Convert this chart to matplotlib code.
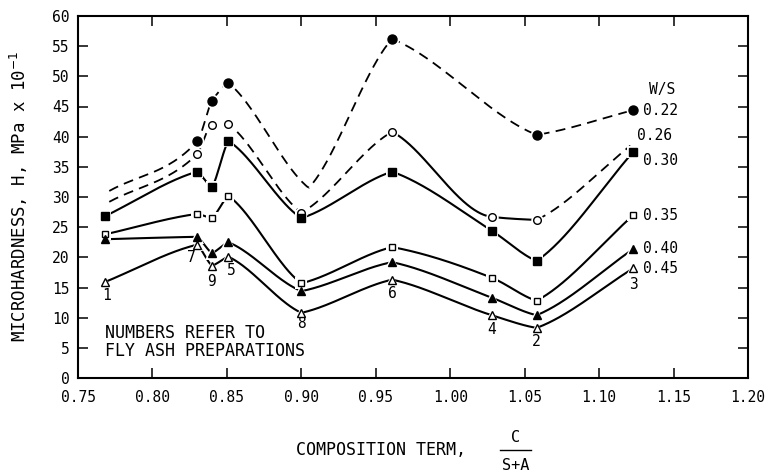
import numpy as np
import matplotlib
matplotlib.use("Agg")
import matplotlib.pyplot as plt

# Fly ash preparations: composition term C/(S+A) and preparation number
comp_term = [0.768, 0.830, 0.840, 0.851, 0.900, 0.961, 1.028, 1.058, 1.123]
prep_ids = ["1", "7", "9", "5", "8", "6", "4", "2", "3"]

# Microhardness (MPa x 10^-1) for each water/solid ratio; None = not measured
ws_022 = [None, 39.2, 45.9, 48.9, None, 56.2, None, 40.3, 44.4]
ws_026 = [None, 37.1, 42.0, 42.1, 27.4, 40.8, 26.7, 26.2, None]
ws_030 = [26.8, 34.2, 31.6, 39.3, 26.5, 34.2, 24.4, 19.4, 37.5]
ws_035 = [23.8, 27.2, 26.5, 30.2, 15.7, 21.7, 16.6, 12.8, 27.0]
ws_040 = [23.0, 23.4, 20.7, 22.5, 14.4, 19.2, 13.3, 10.4, 21.4]
ws_045 = [15.9, 22.1, 18.6, 20.1, 10.8, 16.3, 10.4, 8.3, 18.2]

# Extra guide points the drawn trend curves pass through (no measurement)
guide_022_x = [0.771, 0.905]
guide_022_y = [31.0, 31.5]
guide_026_x = [0.771, 1.121]
guide_026_y = [29.2, 38.5]

ws_labels = ["0.22", "0.26", "0.30", "0.35", "0.40", "0.45"]

plt.rcParams["font.family"] = ["DejaVu Sans Mono", "DejaVu Sans"]

fig = plt.figure(figsize=(7.68, 4.74), dpi=100)
ax = fig.add_axes([78 / 768, 1 - 378 / 474, (748 - 78) / 768, (378 - 16) / 474])

CORNER = 0.6  # fraction of the secant slope kept on each side of a peak/valley


def smooth(x, y, xs):
    """Monotone cubic Hermite curve; peaks and valleys get a soft corner."""
    x = np.asarray(x, float)
    y = np.asarray(y, float)
    h = np.diff(x)
    d = np.diff(y) / h
    n = len(x)
    mr = np.zeros(n)  # slope leaving knot k (used by interval k)
    ml = np.zeros(n)  # slope arriving at knot k (used by interval k-1)
    mr[0] = d[0]
    ml[-1] = d[-1]
    for k in range(1, n - 1):
        if d[k - 1] * d[k] > 0:
            w1 = 2 * h[k] + h[k - 1]
            w2 = h[k] + 2 * h[k - 1]
            m = (w1 + w2) / (w1 / d[k - 1] + w2 / d[k])
            ml[k] = mr[k] = m
        else:
            ml[k] = CORNER * d[k - 1]
            mr[k] = CORNER * d[k]
    idx = np.clip(np.searchsorted(x, xs) - 1, 0, n - 2)
    t = (xs - x[idx]) / h[idx]
    h00 = 2 * t**3 - 3 * t**2 + 1
    h10 = t**3 - 2 * t**2 + t
    h01 = -2 * t**3 + 3 * t**2
    h11 = t**3 - t**2
    return (h00 * y[idx] + h10 * h[idx] * mr[idx]
            + h01 * y[idx + 1] + h11 * h[idx] * ml[idx + 1])


def knots(values, gx=(), gy=()):
    pts = [(x, v) for x, v in zip(comp_term, values) if v is not None]
    pts += list(zip(gx, gy))
    pts.sort()
    return [p[0] for p in pts], [p[1] for p in pts]


def draw_curve(kx, ky, styles):
    # styles: one line style per interval between knots
    i = 0
    n = len(kx) - 1
    while i < n:
        j = i
        while j + 1 < n and styles[j + 1] == styles[i]:
            j += 1
        xs = np.linspace(kx[i], kx[j + 1], 300)
        ys = smooth(kx, ky, xs)
        if styles[i] == "--":
            ax.plot(xs, ys, color="black", lw=1.3, dashes=(5.5, 3.5), zorder=2)
        else:
            ax.plot(xs, ys, color="black", lw=1.5, zorder=2)
        i = j + 1


def draw_markers(values, marker, filled, ms):
    xs = [x for x, v in zip(comp_term, values) if v is not None]
    ys = [v for v in values if v is not None]
    ax.plot(xs, ys, ls="none", marker=marker, ms=ms + 3.5, mfc="white",
            mec="white", mew=0, zorder=3)
    ax.plot(xs, ys, ls="none", marker=marker, ms=ms,
            mfc="black" if filled else "white", mec="black", mew=1.0, zorder=4)


# W/S = 0.22 (dashed)
kx, ky = knots(ws_022, guide_022_x, guide_022_y)
draw_curve(kx, ky, ["--"] * (len(kx) - 1))
# W/S = 0.26 (dashed, solid between 0.96 and 1.06)
kx26, ky26 = knots(ws_026, guide_026_x, guide_026_y)
draw_curve(kx26, ky26, ["--", "--", "--", "--", "--", "-", "-", "--"])
for series in (ws_030, ws_035, ws_040, ws_045):
    kx, ky = knots(series)
    draw_curve(kx, ky, ["-"] * (len(kx) - 1))

draw_markers(ws_022, "o", True, 6.5)
draw_markers(ws_026, "o", False, 5.5)
draw_markers(ws_030, "s", True, 5.8)
draw_markers(ws_035, "s", False, 5.0)
draw_markers(ws_040, "^", True, 6.0)
draw_markers(ws_045, "^", False, 5.2)

# Axes
ax.set_xlim(0.75, 1.20)
ax.set_ylim(0, 60)
ax.set_xticks(np.arange(0.75, 1.2001, 0.05))
ax.set_xticklabels([f"{v:.2f}" for v in np.arange(0.75, 1.2001, 0.05)])
ax.set_yticks(np.arange(0, 61, 5))
ax.tick_params(direction="in", length=7.5, width=1.1, labelsize=10.5,
               top=True, right=True)
ax.tick_params(axis="x", pad=9)
ax.tick_params(axis="y", pad=6)
for s in ax.spines.values():
    s.set_linewidth(1.5)

ax.set_ylabel("MICROHARDNESS, H, MPa x 10$^{-1}$", fontsize=12.5)
ax.yaxis.set_label_coords(-0.072, 0.5)

# x-axis label with the fraction C/(S+A)
fig.text(381 / 768, 1 - 450 / 474, "COMPOSITION TERM,", fontsize=12,
         ha="center", va="center")
fig.text(516 / 768, 1 - 438 / 474, "C", fontsize=11, ha="center", va="center")
fig.text(516 / 768, 1 - 466 / 474, "S+A", fontsize=11, ha="center", va="center")
fig.add_artist(plt.Line2D([500 / 768, 531 / 768], [1 - 450 / 474, 1 - 450 / 474],
                          color="black", lw=1.0))

# Note, one text per line
ax.text(0.768, 7.4, "NUMBERS REFER TO", fontsize=12, ha="left", va="center")
ax.text(0.768, 4.4, "FLY ASH PREPARATIONS", fontsize=12, ha="left", va="center")

# Preparation numbers beneath the W/S = 0.45 points
num_offsets = [(1.5, -9.5), (-4, -9), (0, -11.5), (2, -10), (0, -8),
               (0, -10), (0, -10.5), (0, -10), (0, -11.5)]
for x, v, lab, off in zip(comp_term, ws_045, prep_ids, num_offsets):
    ax.annotate(lab, (x, v), xytext=off, textcoords="offset points",
                ha="center", va="center", fontsize=10.5)

# W/S series labels at the right end
ax.annotate("W/S", (comp_term[-1], ws_022[-1]), xytext=(21, 15),
            textcoords="offset points", ha="center", va="center", fontsize=10.5)
label_anchor = [(comp_term[-1], ws_022[-1]), (guide_026_x[-1], guide_026_y[-1]),
                (comp_term[-1], ws_030[-1]), (comp_term[-1], ws_035[-1]),
                (comp_term[-1], ws_040[-1]), (comp_term[-1], ws_045[-1])]
label_off = [(7, 0), (5, 7), (7, -6), (7, 0), (7, 0), (7, 0)]
for lab, xy, off in zip(ws_labels, label_anchor, label_off):
    ax.annotate(lab, xy, xytext=off, textcoords="offset points",
                ha="left", va="center", fontsize=10.5)

fig.savefig("out.png", dpi=100, facecolor="white")
